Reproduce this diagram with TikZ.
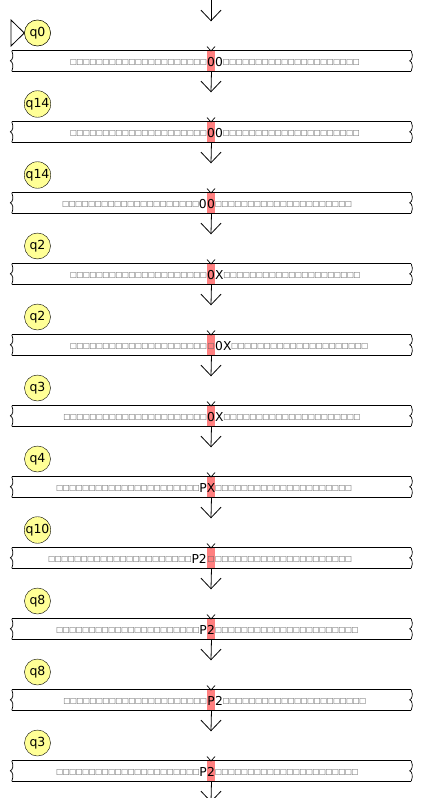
\documentclass[tikz,border=0pt]{standalone}
\usepackage{fontspec}
\setmainfont{DejaVu Sans}
\newfontfamily\blkfont{DejaVu Sans}
\definecolor{stateyellow}{RGB}{255,255,150}
\definecolor{headred}{RGB}{255,128,128}
\definecolor{blankgray}{RGB}{95,95,95}
\newcommand\blk{\makebox[6.5pt]{\raisebox{1.6pt}{\color{blankgray}\blkfont\fontsize{7.6}{9}\selectfont □}}}
\newcommand\blanks[1]{\foreach \i in {1,...,#1}{\blk}}
\tikzset{
  statenode/.style={circle,draw,fill=stateyellow,minimum size=26pt,inner sep=0pt,font=\fontsize{12.5}{14}\selectfont},
  tapenode/.style={rectangle,minimum width=399pt,minimum height=20pt,inner sep=0pt},
  sym/.style={inner sep=0pt,font=\fontsize{12.3}{14}\selectfont},
  flow/.style={draw,line width=0.8pt},
}
\newcommand\tmrow[7]{%
  \pgfmathsetmacro\ty{51+71*(#1-1)}
  \node[statenode] (s#1) at (37.5,\ty-18) {#2};
  \node[tapenode] (t#1) at (211.5,\ty+10) {};
  \fill[headred] (207,\ty) rectangle (215,\ty+20);
  \node[sym,anchor=base] (h#1) at (211,\ty+15.5) {#5};
  \node[sym,anchor=base east] (l#1) at (207,\ty+15.5) {\blanks{#3}#4};
  \node[sym,anchor=base west] (r#1) at (215,\ty+15.5) {#6\blanks{#7}};
  \draw[line width=0.8pt] (t#1.north west) -- (t#1.north east) (t#1.south west) -- (t#1.south east);
  \draw[line width=0.7pt] (t#1.north west) .. controls ++(2,5) and ++(2.5,-1) .. ++(-1.5,10) .. controls ++(2.5,1) and ++(2,-5) .. (t#1.south west);
  \draw[line width=0.7pt] (t#1.north east) .. controls ++(2,5) and ++(2.5,-1) .. ++(-1.5,10) .. controls ++(2.5,1) and ++(2,-5) .. (t#1.south east);
  \coordinate (m#1) at (211,\ty);
  \draw[line width=0.7pt] (m#1) ++(-4,-4.5) -- (m#1) -- ++(4,-4.5);
  \coordinate (a#1) at (211,\ty-30.3);
  \draw[line width=0.8pt] (a#1) ++(-10,-10.5) -- (a#1) -- ++(10,-10.5);
}
\begin{document}
\begin{tikzpicture}[x=1pt,y=-1pt]
\clip (0,0) rectangle (426,798);
\fill[white] (0,0) rectangle (426,798);
\coordinate (top) at (211,0);
\tmrow{1}{q0}{21}{}{0}{0}{21}
\tmrow{2}{q14}{21}{}{0}{0}{21}
\tmrow{3}{q14}{21}{0}{0}{}{21}
\tmrow{4}{q2}{21}{}{0}{X}{21}
\tmrow{5}{q2}{21}{}{\blk}{0X}{21}
\tmrow{6}{q3}{22}{}{0}{X}{21}
\tmrow{7}{q4}{22}{P}{X}{}{21}
\tmrow{8}{q10}{22}{P2}{\blk}{}{21}
\tmrow{9}{q8}{22}{P}{2}{}{22}
\tmrow{10}{q8}{22}{}{P}{2}{22}
\tmrow{11}{q3}{22}{P}{2}{}{22}
\coordinate (a12) at (211,801.7);
\draw[line width=0.8pt] (a12) ++(-10,-10.5) -- (a12) -- ++(10,-10.5);
% start marker
\draw[line width=0.8pt,fill=white] (11,20) -- (11,46) -- (s1.west) -- cycle;
\node[statenode] at (s1) {q0};
% connectors
\draw[flow] (top) -- (a1);
\foreach \p/\n in {1/2,2/3,3/4,4/5,5/6,6/7,7/8,8/9,9/10,10/11,11/12}{
  \draw[flow] (t\p.south) -- (a\n);
}
\end{tikzpicture}
\end{document}
